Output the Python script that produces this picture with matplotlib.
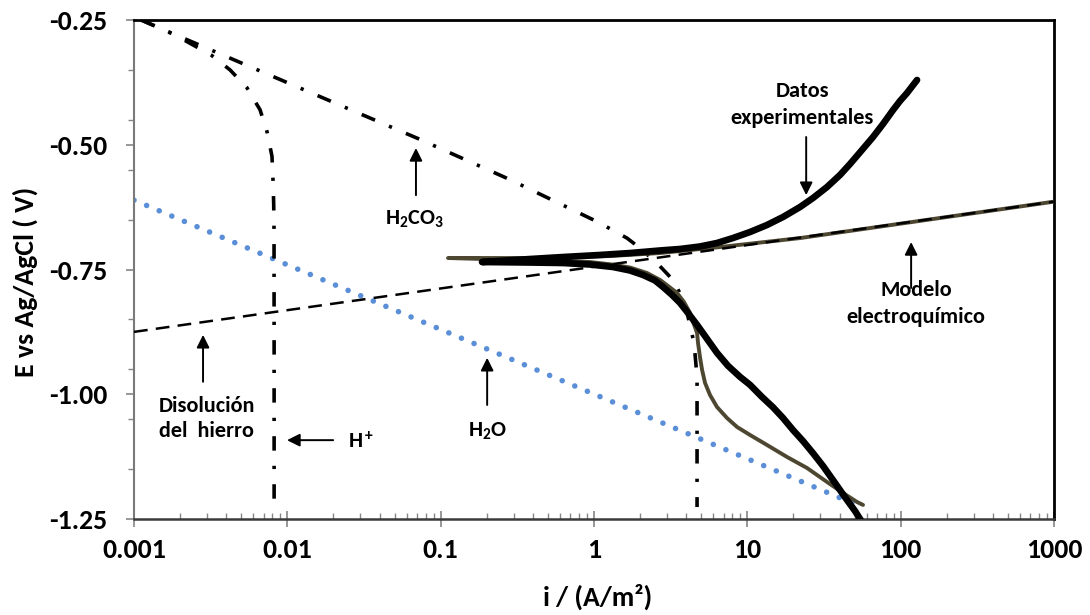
import matplotlib
matplotlib.use("Agg")
import matplotlib.pyplot as plt
from matplotlib.ticker import FixedLocator, NullFormatter

# ---- data: current density i (A/m2) vs potential E (V vs Ag/AgCl) ----
# Cathodic H+ reduction (activation + limiting current)
h_plus_i = [0.00112, 0.00185, 0.00318, 0.00423, 0.00546, 0.00664, 0.00737,
            0.00794, 0.00807, 0.00815, 0.00819, 0.0082, 0.0082]
h_plus_E = [-0.250, -0.280, -0.320, -0.350, -0.386, -0.430, -0.474,
            -0.523, -0.573, -0.620, -0.671, -0.900, -1.225]

# Cathodic H2CO3 reduction
h2co3_i = [0.00111, 0.0723, 0.279, 1.062, 1.64, 1.995, 2.61, 3.37, 3.98,
           4.49, 4.70, 4.70]
h2co3_E = [-0.250, -0.4885, -0.569, -0.655, -0.687, -0.707, -0.739, -0.775,
           -0.827, -0.897, -0.965, -1.226]

# Direct water reduction
h2o_i = [0.001, 52.0]
h2o_E = [-0.611, -1.222]

# Anodic iron dissolution
fe_i = [0.001, 1000.0]
fe_E = [-0.875, -0.614]

# Electrochemical model (cathodic branch from high current up to Ecorr,
# then anodic branch)
model_i = [56.82, 51.93, 42.08, 33.09, 24.51, 18.15, 13.44, 10.41, 8.57,
           7.37, 6.34, 5.71, 5.30, 5.07, 4.91, 4.77, 4.70, 4.45, 4.23, 3.86,
           3.48, 3.13, 2.70, 2.217, 1.717, 1.31, 0.942, 0.329, 0.1117,
           0.445, 1.27, 2.70, 6.64, 22.1, 1000.0]
model_E = [-1.2218, -1.2159, -1.1978, -1.1758, -1.1478, -1.1257, -1.1017,
           -1.0816, -1.0656, -1.0476, -1.0255, -1.0015, -0.9774, -0.9514,
           -0.9253, -0.8973, -0.877, -0.857, -0.837, -0.815, -0.797, -0.786,
           -0.771, -0.757, -0.746, -0.740, -0.735, -0.731, -0.727,
           -0.727, -0.723, -0.717, -0.705, -0.687, -0.614]

# Experimental polarization curve (cathodic branch, then anodic branch)
exp_i = [58.6, 50.4, 44.7, 40.21, 36.2, 31.17, 26.8, 23.08, 19.9, 17.09,
         14.7, 12.47, 10.4, 8.95, 7.48, 6.34, 5.46, 4.70, 4.10, 3.64, 3.23,
         2.82, 2.50, 2.09, 1.717, 1.33, 0.942, 0.628, 0.3825, 0.186,
         0.3825, 0.628, 1.094, 1.72, 2.695, 3.64, 4.91, 6.34, 8.07, 10.41,
         13.44, 17.09, 22.06, 26.82, 33.09, 40.21, 46.73, 55.96, 66.02,
         76.7, 89.2, 99.0, 110.0, 127.9]
exp_E = [-1.266, -1.234, -1.212, -1.192, -1.172, -1.1438, -1.118, -1.0938,
         -1.072, -1.0476, -1.026, -1.0055, -0.981, -0.965, -0.943, -0.917,
         -0.889, -0.861, -0.837, -0.817, -0.801, -0.785, -0.772, -0.761,
         -0.752, -0.745, -0.740, -0.737, -0.736, -0.735,
         -0.729, -0.725, -0.7209, -0.717, -0.7119, -0.7089, -0.7039,
         -0.6969, -0.6869, -0.6749, -0.6608, -0.6448, -0.6248, -0.6067,
         -0.5847, -0.5606, -0.5386, -0.5105, -0.4845, -0.4584, -0.4304,
         -0.4123, -0.3963, -0.3702]

x_ticks = [0.001, 0.01, 0.1, 1, 10, 100, 1000]
x_tick_labels = ["0.001", "0.01", "0.1", "1", "10", "100", "1000"]
y_ticks = [-1.25, -1.00, -0.75, -0.50, -0.25]
y_tick_labels = ["-1.25", "-1.00", "-0.75", "-0.50", "-0.25"]
y_minor_ticks = [-1.15, -1.05, -0.95, -0.85, -0.65, -0.55, -0.45, -0.35]

# ---- styling ----
plt.rcParams["font.family"] = ["Carlito", "DejaVu Sans"]
plt.rcParams["font.weight"] = "bold"
plt.rcParams["mathtext.fontset"] = "custom"
plt.rcParams["mathtext.rm"] = "Carlito:bold"
plt.rcParams["mathtext.it"] = "Carlito:bold"
plt.rcParams["mathtext.bf"] = "Carlito:bold"
plt.rcParams["mathtext.default"] = "rm"

W, H = 1090, 615
fig = plt.figure(figsize=(W / 100, H / 100), dpi=100)
ax = fig.add_axes([134 / W, 1 - 519 / H, 920 / W, 499 / H])

BLUE = "#5A8FD8"
OLIVE = "#4d4732"

ax.plot(h2o_i, h2o_E, color=BLUE, lw=4.0, linestyle=(0, (0.01, 2.45)),
        dash_capstyle="round", zorder=2)
ax.plot(h_plus_i, h_plus_E, color="black", lw=2.6,
        linestyle=(0, (4, 4.2, 0.9, 4.2)), dash_capstyle="butt", zorder=3)
ax.plot(h2co3_i, h2co3_E, color="black", lw=2.6,
        linestyle=(0, (4, 4.2, 0.9, 4.2)), dash_capstyle="butt", zorder=3)
ax.plot(model_i, model_E, color=OLIVE, lw=2.8, solid_capstyle="round",
        solid_joinstyle="round", zorder=4)
ax.plot(fe_i, fe_E, color="black", lw=1.8, linestyle=(0, (5.5, 3.3)),
        zorder=5)
ax.plot(exp_i, exp_E, color="black", lw=4.8, solid_capstyle="round",
        solid_joinstyle="round", zorder=6)

ax.set_xscale("log")
ax.set_xlim(0.001, 1000)
ax.set_ylim(-1.25, -0.25)

ax.xaxis.set_major_locator(FixedLocator(x_ticks))
ax.set_xticklabels(x_tick_labels)
ax.xaxis.set_minor_locator(FixedLocator(
    [m * 10.0 ** e for e in range(-3, 3) for m in range(2, 10)]))
ax.xaxis.set_minor_formatter(NullFormatter())
ax.yaxis.set_major_locator(FixedLocator(y_ticks))
ax.set_yticklabels(y_tick_labels)
ax.yaxis.set_minor_locator(FixedLocator(y_minor_ticks))

TICK = "#868686"
ax.tick_params(axis="x", which="major", direction="inout", length=11,
               width=1.2, color=TICK, labelsize=20, pad=8)
ax.tick_params(axis="x", which="minor", direction="in", length=4.5,
               width=1.0, color=TICK)
ax.tick_params(axis="y", which="major", direction="out", length=6,
               width=1.2, color=TICK, labelsize=20, pad=13)
ax.tick_params(axis="y", which="minor", direction="out", length=4.5,
               width=1.0, color=TICK)

for side in ("top", "right"):
    ax.spines[side].set_color("black")
    ax.spines[side].set_linewidth(2.0)
ax.spines["left"].set_color("#7a7a7a")
ax.spines["left"].set_linewidth(1.5)
ax.spines["bottom"].set_color("#3a3a3a")
ax.spines["bottom"].set_linewidth(1.8)

fig.text(25 / W, 1 - 282 / H, "E vs Ag/AgCl ( V)", rotation=90,
         ha="center", va="center", fontsize=20, fontweight="bold")
fig.text(598 / W, 1 - 597 / H, "i / (A/m²)", ha="center", va="center",
         fontsize=20, fontweight="bold")

# ---- annotations ----
FS = 16
arrow = dict(arrowstyle="-|>", color="black", lw=1.4, mutation_scale=19,
             shrinkA=0, shrinkB=0)

ax.text(22.8, -0.4044, "Datos", ha="center", va="baseline", fontsize=FS)
ax.text(22.8, -0.4583, "experimentales", ha="center", va="baseline",
        fontsize=FS)
ax.annotate("", xy=(24.2, -0.601), xytext=(24.2, -0.4845), arrowprops=arrow)

ax.text(126, -0.8026, "Modelo", ha="center", va="baseline", fontsize=FS)
ax.text(126, -0.8567, "electroquímico", ha="center", va="baseline",
        fontsize=FS)
ax.annotate("", xy=(117, -0.695), xytext=(117, -0.787), arrowprops=arrow)

ax.text(0.068, -0.6608, r"H$_2$CO$_3$", ha="center", va="baseline",
        fontsize=FS)
ax.annotate("", xy=(0.069, -0.5065), xytext=(0.069, -0.601), arrowprops=arrow)

ax.text(0.201, -1.0851, r"H$_2$O", ha="center", va="baseline", fontsize=FS)
ax.annotate("", xy=(0.201, -0.927), xytext=(0.201, -1.0215), arrowprops=arrow)

ax.text(0.00299, -1.0354, "Disolución", ha="center", va="baseline",
        fontsize=FS)
ax.text(0.00299, -1.0856, "del  hierro", ha="center", va="baseline",
        fontsize=FS)
ax.annotate("", xy=(0.00282, -0.881), xytext=(0.00282, -0.975),
            arrowprops=arrow)

ax.text(0.02487, -1.1077, r"H$^+$", ha="left", va="baseline", fontsize=FS)
ax.annotate("", xy=(0.00995, -1.092), xytext=(0.0199, -1.092),
            arrowprops=arrow)

fig.savefig("out.png", dpi=100)
